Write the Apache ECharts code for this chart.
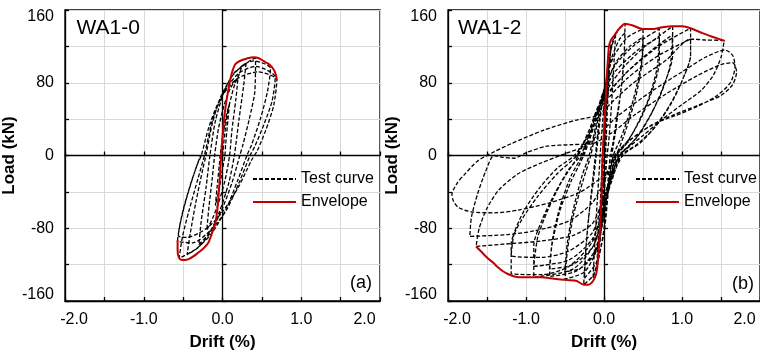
<!DOCTYPE html>
<html>
<head>
<meta charset="utf-8">
<script src="https://cdn.jsdelivr.net/npm/echarts@6/dist/echarts.min.js"></script>
<style>
  html, body { margin: 0; padding: 0; background: #fff; }
  #chart { width: 760px; height: 356px; }
</style>
</head>
<body>
<div id="chart"></div>
<script>
// Axis ticks shared by both panels
const driftTicks = [-2, -1, 0, 1, 2];
const loadTicks = [-160, -80, 0, 80, 160];

const panelTitles = ['WA1-0', 'WA1-2'];
const panelTags = ['(a)', '(b)'];
const seriesNames = ['Test curve', 'Envelope'];

// WA1-0: cyclic load-drift history, [drift %, load kN]
const wa10TestCurve = [
  [0, 0], [0.03, 25], [0.06, 45], [0.09, 58], [0.07, 40], [0.04, 12], [0.03, 0], [-0.01, -20], [-0.05, -40], [-0.09, -55], [-0.07, -36], [-0.04, -10], [-0.03, 0], [0.01, 25], [0.05, 45], [0.09, 57],
  [0.14, 74], [0.2, 88], [0.17, 62], [0.12, 28], [0.09, 0], [0.03, -28], [-0.05, -52], [-0.12, -68], [-0.2, -82], [-0.17, -55], [-0.13, -25], [-0.1, 0], [-0.05, 30], [0.02, 55], [0.1, 74], [0.2, 87],
  [0.25, 98], [0.3, 102], [0.27, 78], [0.21, 40], [0.15, 0], [0.08, -30], [-0.04, -62], [-0.16, -84], [-0.3, -98], [-0.27, -72], [-0.21, -36], [-0.16, 0], [-0.09, 38], [0.02, 70], [0.14, 90], [0.3, 101],
  [0.36, 105], [0.42, 107], [0.41, 70], [0.34, 40], [0.26, 12], [0.22, 0], [0.12, -30], [-0.02, -62], [-0.18, -88], [-0.32, -102], [-0.45, -109], [-0.41, -86], [-0.34, -52], [-0.25, -15], [-0.21, 0], [-0.13, 35], [-0.02, 65], [0.13, 88], [0.27, 100], [0.4, 104],
  [0.5, 102], [0.61, 96], [0.57, 70], [0.48, 40], [0.37, 12], [0.31, 0], [0.19, -28], [0.04, -60], [-0.14, -86], [-0.34, -103], [-0.55, -113], [-0.51, -90], [-0.43, -62], [-0.31, -25], [-0.23, 0], [-0.13, 38], [0.01, 68], [0.2, 90], [0.42, 98], [0.67, 86],
  [0.63, 60], [0.53, 35], [0.41, 10], [0.35, 0], [0.21, -30], [0.05, -60], [-0.15, -82], [-0.38, -96], [-0.57, -93], [-0.53, -72], [-0.45, -45], [-0.33, -12], [-0.27, 0], [-0.17, 32], [-0.03, 62], [0.18, 84], [0.45, 92], [0.69, 83],
  [0.65, 55], [0.55, 28], [0.44, 5], [0.37, -5], [0.2, -35], [0, -62], [-0.2, -80], [-0.45, -90], [-0.56, -88], [-0.5, -60], [-0.4, -30], [-0.28, 0]
];

// WA1-0: backbone envelope
const wa10Envelope = [
  [-0.57, -93], [-0.57, -104], [-0.54, -114], [-0.48, -115], [-0.43, -114], [-0.37, -111], [-0.31, -107], [-0.24, -102], [-0.18, -96], [-0.14, -87], [-0.09, -74], [-0.06, -55], [-0.045, -38], [-0.03, -18], [-0.017, 0],
  [0.0, 20], [0.02, 40], [0.05, 60], [0.08, 75], [0.1, 84], [0.13, 94], [0.16, 100], [0.2, 103], [0.25, 105], [0.32, 107], [0.4, 108], [0.46, 107], [0.52, 104], [0.58, 101], [0.62, 98], [0.66, 93], [0.68, 88], [0.69, 83]
];

// WA1-2: cyclic load-drift history, [drift %, load kN]
const wa12TestCurve = [
  [0, 0], [0.02, 40], [0.04, 75], [0.06, 100], [0.05, 80], [0.03, 40], [0.01, 0], [-0.01, -35], [-0.03, -70], [-0.05, -95], [-0.04, -70], [-0.02, -30], [0, 0],
  [0.03, 55], [0.06, 100], [0.09, 122], [0.07, 95], [0.04, 45], [0.02, 0], [-0.02, -50], [-0.05, -90], [-0.09, -118], [-0.07, -85], [-0.04, -40], [-0.02, 0],
  [0.02, 50], [0.06, 95], [0.1, 122], [0.15, 135], [0.13, 105], [0.1, 60], [0.06, 15], [0.04, 0], [0, -45], [-0.04, -85], [-0.08, -115], [-0.14, -135], [-0.12, -100], [-0.09, -55], [-0.06, -15], [-0.05, 0],
  [-0.01, 45], [0.04, 90], [0.1, 120], [0.18, 138], [0.27, 145], [0.26, 112], [0.23, 80], [0.17, 45], [0.11, 12], [0.08, 0], [0.04, -40], [0, -80], [-0.06, -110], [-0.14, -132], [-0.26, -142], [-0.24, -112], [-0.2, -70], [-0.14, -30], [-0.1, 0],
  [-0.05, 40], [0.02, 80], [0.1, 108], [0.2, 128], [0.27, 135], [0.25, 100], [0.2, 60], [0.14, 22], [0.1, 0], [0.05, -45], [0, -85], [-0.1, -118], [-0.25, -135], [-0.23, -100], [-0.18, -55], [-0.13, -15], [-0.11, 0],
  [-0.06, 40], [0.02, 80], [0.12, 108], [0.3, 130], [0.5, 139], [0.5, 117], [0.44, 85], [0.34, 50], [0.22, 20], [0.12, 0], [0.05, -35], [-0.02, -72], [-0.1, -105], [-0.25, -128], [-0.5, -136], [-0.47, -105], [-0.39, -65], [-0.27, -28], [-0.17, 0],
  [-0.08, 38], [0, 72], [0.15, 102], [0.33, 120], [0.5, 130], [0.48, 98], [0.4, 62], [0.28, 28], [0.18, 5], [0.14, 0], [0.06, -38], [-0.02, -76], [-0.12, -108], [-0.3, -124], [-0.5, -128], [-0.47, -96], [-0.39, -58], [-0.28, -22], [-0.19, 0],
  [-0.1, 35], [-0.01, 70], [0.15, 100], [0.4, 122], [0.71, 139], [0.71, 103], [0.62, 72], [0.48, 42], [0.32, 18], [0.15, 0], [0.06, -35], [-0.02, -72], [-0.12, -105], [-0.35, -127], [-0.7, -133], [-0.67, -100], [-0.57, -62], [-0.42, -28], [-0.26, 0],
  [-0.13, 32], [-0.03, 65], [0.15, 93], [0.45, 117], [0.71, 130], [0.68, 96], [0.57, 62], [0.42, 33], [0.28, 12], [0.16, 0], [0.07, -32], [-0.02, -68], [-0.14, -100], [-0.4, -120], [-0.7, -125], [-0.66, -92], [-0.56, -55], [-0.42, -22], [-0.28, 0],
  [-0.15, 30], [-0.04, 60], [0.2, 92], [0.5, 118], [0.88, 142], [0.88, 110], [0.78, 80], [0.62, 48], [0.44, 22], [0.28, 7], [0.18, 0], [0.08, -30], [-0.02, -65], [-0.14, -100], [-0.4, -125], [-0.9, -134], [-0.9, -99], [-0.79, -70], [-0.62, -40], [-0.45, -15], [-0.3, 0],
  [-0.17, 28], [-0.05, 55], [0.25, 88], [0.6, 115], [0.88, 133], [0.85, 100], [0.74, 70], [0.58, 42], [0.4, 18], [0.2, 0], [0.08, -28], [-0.02, -60], [-0.15, -92], [-0.45, -115], [-0.9, -122], [-0.85, -90], [-0.72, -60], [-0.55, -30], [-0.33, 0],
  [-0.18, 30], [-0.05, 58], [0.3, 92], [0.7, 120], [1.11, 140], [1.11, 110], [1.0, 82], [0.84, 55], [0.64, 30], [0.42, 12], [0.22, 0], [0.1, -28], [-0.02, -60], [-0.15, -95], [-0.45, -122], [-0.8, -131], [-1.19, -130], [-1.19, -97], [-1.05, -70], [-0.85, -45], [-0.6, -20], [-0.35, 0],
  [-0.2, 26], [-0.05, 52], [0.3, 85], [0.7, 110], [1.11, 128], [1.11, 110], [1.02, 86], [0.88, 60], [0.7, 36], [0.48, 15], [0.24, 0], [0.1, -25], [-0.03, -55], [-0.15, -85], [-0.45, -105], [-0.8, -112], [-1.19, -110], [-1.15, -85], [-1.02, -60], [-0.82, -35], [-0.6, -14], [-0.38, 0],
  [-0.2, 22], [-0.05, 45], [0.35, 78], [0.8, 105], [1.11, 128], [1.3, 127], [1.54, 126], [1.5, 108], [1.4, 88], [1.25, 72], [1.0, 56], [0.75, 40], [0.5, 22], [0.3, 8], [0.2, 0], [0.08, -25], [-0.03, -52], [-0.15, -75], [-0.4, -88], [-0.8, -94], [-1.21, -97], [-1.64, -100], [-1.6, -80], [-1.5, -58], [-1.35, -38], [-1.1, -20], [-0.8, -8], [-0.5, 2], [-0.25, 10],
  [-0.05, 25], [0.2, 45], [0.6, 70], [1.0, 92], [1.3, 108], [1.55, 116], [1.65, 110], [1.68, 98], [1.62, 80], [1.45, 66], [1.2, 54], [0.92, 44], [0.67, 36], [0.46, 25], [0.25, 11], [0.12, -3], [0.02, -25], [-0.15, -52], [-0.45, -72], [-0.9, -83], [-1.24, -87], [-1.72, -89], [-1.7, -68], [-1.62, -42], [-1.52, -18], [-1.41, 0], [-1.3, -2], [-1.15, -3], [-1.0, 3], [-0.75, 10], [-0.4, 12], [-0.15, 13],
  [0.1, 25], [0.4, 45], [0.8, 68], [1.2, 88], [1.5, 100], [1.65, 102], [1.7, 92], [1.65, 78], [1.5, 66], [1.2, 55], [0.9, 45], [0.6, 33], [0.35, 18], [0.15, 0], [0.02, -20], [-0.3, -40], [-0.7, -52], [-1.1, -60], [-1.4, -63], [-1.7, -62], [-1.87, -57], [-1.93, -50], [-1.95, -43], [-1.88, -30], [-1.79, -21], [-1.62, -6], [-1.41, 4], [-1.19, 13], [-0.77, 28], [-0.35, 39], [-0.05, 44]
];

// WA1-2: backbone envelope
const wa12Envelope = [
  [-1.64, -100], [-1.56, -107], [-1.49, -113], [-1.42, -118], [-1.36, -123], [-1.3, -127], [-1.24, -130], [-1.15, -133], [-1.03, -134], [-0.9, -134], [-0.81, -134], [-0.64, -135.5], [-0.47, -137], [-0.35, -138], [-0.26, -142], [-0.2, -142],
  [-0.14, -138], [-0.1, -130], [-0.08, -118], [-0.065, -100], [-0.05, -79], [-0.035, -50], [-0.017, 0], [0.013, 48], [0.034, 84], [0.05, 105], [0.064, 120], [0.09, 127], [0.14, 133], [0.2, 140], [0.27, 145],
  [0.37, 143], [0.5, 139], [0.63, 139], [0.75, 141], [0.88, 142], [1.0, 142], [1.11, 140], [1.26, 134.5], [1.41, 130], [1.55, 126]
];

const FONT = '"Liberation Sans", Arial, Helvetica, sans-serif';
const GRID_LINE = '#d9d9d9';
const INK = '#000';
const RED = '#c00000';

const dMin = driftTicks[0], dMax = driftTicks[driftTicks.length - 1], dStep = driftTicks[1] - driftTicks[0];
const lMin = loadTicks[0], lMax = loadTicks[loadTicks.length - 1], lStep = loadTicks[1] - loadTicks[0];

const axisStroke = { color: INK, width: 1.3 };
const labelFont = { fontFamily: FONT, fontSize: 16, color: INK };
const nameFont = { fontFamily: FONT, fontSize: 17, fontWeight: 'bold', color: INK };

// Frame axes (bottom / left edge) carry labels, names and gridlines
function frameXAxis(gridIndex) {
  return {
    type: 'value', gridIndex, position: 'bottom',
    min: dMin, max: dMax, interval: dStep,
    name: 'Drift (%)', nameLocation: 'middle', nameGap: 33, nameTextStyle: nameFont,
    axisLine: { show: true, onZero: false, lineStyle: axisStroke },
    axisTick: { show: true, inside: true, length: 4, lineStyle: axisStroke },
    minorTick: { show: true, splitNumber: 2, length: 4, lineStyle: axisStroke },
    splitLine: { show: true, lineStyle: { color: GRID_LINE, width: 1 } },
    minorSplitLine: { show: true, lineStyle: { color: GRID_LINE, width: 1 } },
    axisLabel: {
      show: true, margin: 11, showMinLabel: true, showMaxLabel: true, hideOverlap: false,
      ...labelFont,
      formatter: (v) => {
        const s = v.toFixed(1);
        if (v === dMin) return '{lo|' + s + '}';
        if (v === dMax) return '{hi|' + s + '}';
        return s;
      },
      rich: {
        lo: { ...labelFont, padding: [0, 0, 0, 18] },
        hi: { ...labelFont, padding: [0, 31, 0, 0] }
      }
    }
  };
}

function frameYAxis(gridIndex) {
  return {
    type: 'value', gridIndex, position: 'left',
    min: lMin, max: lMax, interval: lStep,
    name: 'Load (kN)', nameLocation: 'middle', nameGap: 39, nameTextStyle: nameFont,
    axisLine: { show: true, onZero: false, lineStyle: axisStroke },
    axisTick: { show: true, inside: true, length: 4, lineStyle: axisStroke },
    minorTick: { show: true, splitNumber: 2, length: 4, lineStyle: axisStroke },
    splitLine: { show: true, lineStyle: { color: GRID_LINE, width: 1 } },
    minorSplitLine: { show: true, lineStyle: { color: GRID_LINE, width: 1 } },
    axisLabel: {
      show: true, margin: 11, showMinLabel: true, showMaxLabel: true, hideOverlap: false,
      ...labelFont,
      formatter: (v) => {
        const s = String(v);
        if (v === lMax) return '{top|' + s + '}';
        if (v === lMin) return '{bot|' + s + '}';
        return s;
      },
      rich: {
        top: { ...labelFont, padding: [14, 0, 0, 0] },
        bot: { ...labelFont, padding: [0, 0, 13, 0] }
      }
    }
  };
}

// Axes drawn through the origin (x = 0 and load = 0 lines with ticks)
function zeroXAxis(gridIndex, yIndex) {
  return {
    type: 'value', gridIndex, position: 'bottom',
    min: dMin, max: dMax, interval: dStep,
    axisLine: { show: true, onZero: true, onZeroAxisIndex: yIndex, lineStyle: axisStroke },
    axisTick: { show: true, inside: true, length: 4, lineStyle: axisStroke },
    minorTick: { show: true, splitNumber: 2, length: 4, lineStyle: axisStroke },
    splitLine: { show: false }, minorSplitLine: { show: false },
    axisLabel: { show: false }
  };
}

function zeroYAxis(gridIndex, xIndex) {
  return {
    type: 'value', gridIndex, position: 'left',
    min: lMin, max: lMax, interval: lStep,
    axisLine: { show: true, onZero: true, onZeroAxisIndex: xIndex, lineStyle: axisStroke },
    axisTick: { show: true, inside: true, length: 4, lineStyle: axisStroke },
    minorTick: { show: true, splitNumber: 2, length: 4, lineStyle: axisStroke },
    splitLine: { show: false }, minorSplitLine: { show: false },
    axisLabel: { show: false }
  };
}

function testSeries(data, axisIndex) {
  return {
    type: 'line', name: seriesNames[0], data,
    xAxisIndex: axisIndex, yAxisIndex: axisIndex,
    symbol: 'none', smooth: 0.25, z: 3,
    lineStyle: { color: INK, width: 1.3, type: [4, 2] },
    itemStyle: { color: INK }
  };
}

function envelopeSeries(data, axisIndex) {
  return {
    type: 'line', name: seriesNames[1], data,
    xAxisIndex: axisIndex, yAxisIndex: axisIndex,
    symbol: 'none', smooth: 0.3, z: 4,
    lineStyle: { color: RED, width: 2 },
    itemStyle: { color: RED }
  };
}

// Line-only legend keys (no marker in the middle)
function panelLegend(left) {
  return {
    orient: 'vertical', left, top: 171, padding: 0,
    itemWidth: 43, itemHeight: 14, itemGap: 7,
    selectedMode: false,
    data: seriesNames,
    itemStyle: { opacity: 0 },
    textStyle: { fontFamily: FONT, fontSize: 16, color: INK }
  };
}

function panelText(text, left, top, size) {
  return {
    text, left, top, padding: 0,
    textStyle: { fontFamily: FONT, fontSize: size, fontWeight: 'normal', color: INK }
  };
}

const chart = echarts.init(document.getElementById('chart'), null, { renderer: 'canvas' });
chart.setOption({
  animation: false,
  backgroundColor: '#fff',
  grid: [
    { left: 65, top: 10, width: 315, height: 292, show: true, borderColor: INK, borderWidth: 1.3, backgroundColor: 'transparent' },
    { left: 448, top: 10, width: 315.5, height: 292, show: true, borderColor: INK, borderWidth: 1.3, backgroundColor: 'transparent' }
  ],
  xAxis: [frameXAxis(0), zeroXAxis(0, 0), frameXAxis(1), zeroXAxis(1, 2)],
  yAxis: [frameYAxis(0), zeroYAxis(0, 0), frameYAxis(1), zeroYAxis(1, 2)],
  legend: [panelLegend(252), panelLegend(635)],
  title: [
    panelText(panelTitles[0], 76.5, 18, 21),
    panelText(panelTitles[1], 458, 18, 21),
    panelText(panelTags[0], 350, 274, 18),
    panelText(panelTags[1], 732, 275, 18)
  ],
  series: [
    testSeries(wa10TestCurve, 0),
    envelopeSeries(wa10Envelope, 0),
    testSeries(wa12TestCurve, 2),
    envelopeSeries(wa12Envelope, 2)
  ]
});
</script>
</body>
</html>
